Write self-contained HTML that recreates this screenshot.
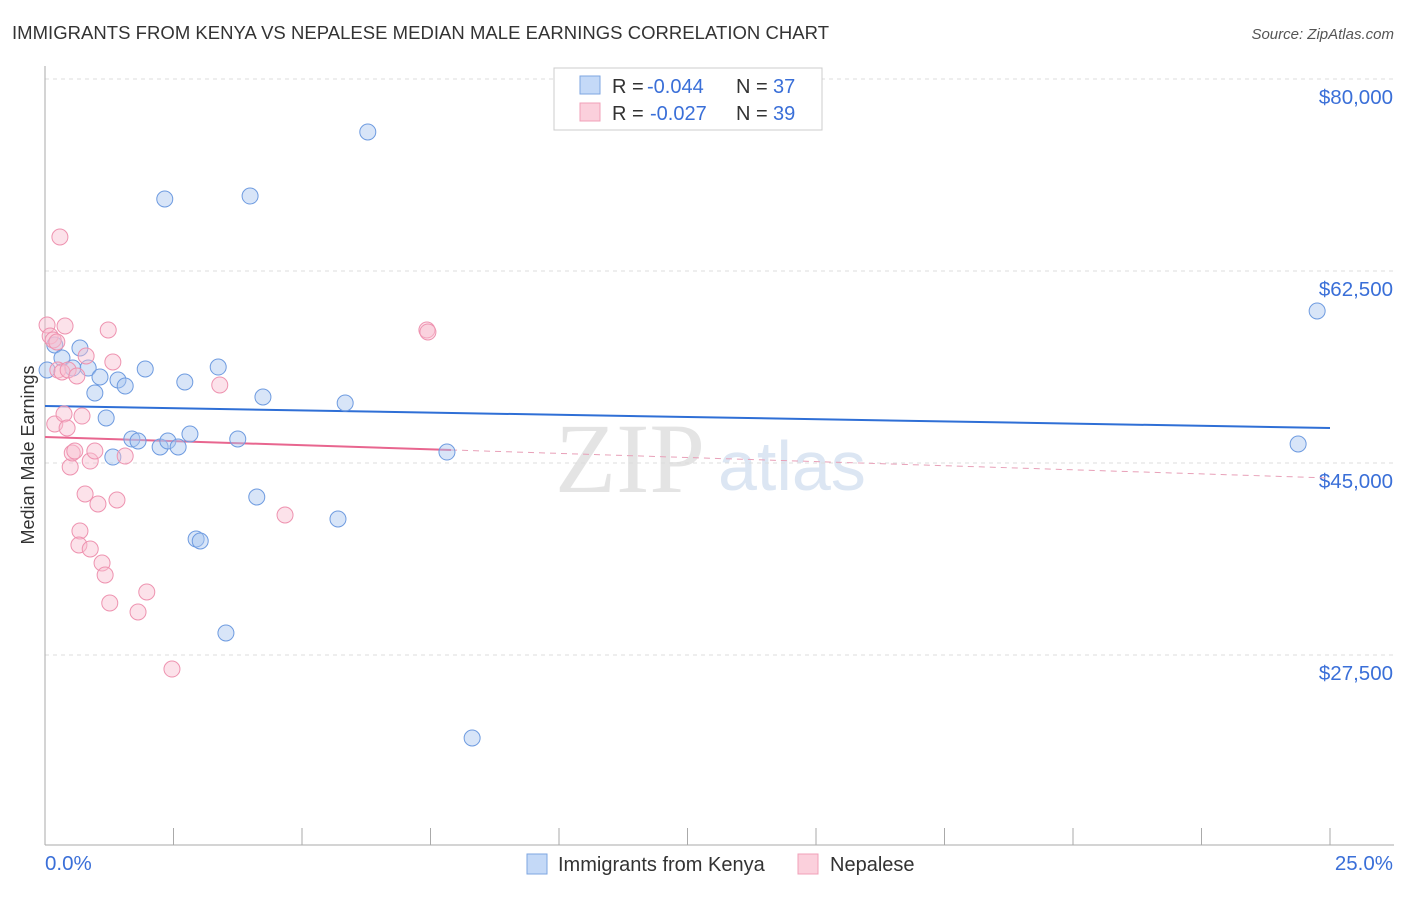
<!DOCTYPE html>
<html><head><meta charset="utf-8"><style>
body{margin:0;background:#fff;font-family:"Liberation Sans",sans-serif;}
</style></head><body>
<svg id="chart" width="1406" height="892" xmlns="http://www.w3.org/2000/svg">
<text x="12" y="39" font-size="18.5" fill="#333" textLength="817">IMMIGRANTS FROM KENYA VS NEPALESE MEDIAN MALE EARNINGS CORRELATION CHART</text>
<text x="1394" y="39" font-size="15" fill="#555" font-style="italic" text-anchor="end">Source: ZipAtlas.com</text>
<text transform="translate(34,455) rotate(-90)" font-size="18" fill="#333" text-anchor="middle">Median Male Earnings</text>
<text x="555" y="492" font-size="100" fill="#e4e4e4" font-family="Liberation Serif,serif">ZIP</text>
<text x="718" y="490" font-size="70" fill="#dce6f3">atlas</text>
<g id="grid"></g><g id="axes"></g><g id="trend"></g><g id="points"></g>
<g>
<rect x="554" y="68" width="268" height="62" fill="#fff" stroke="#ccc"/>
<rect x="580" y="76" width="20" height="18" fill="#c4d9f7" stroke="#7ea6e0"/>
<text x="612" y="93" font-size="20" fill="#333">R =</text>
<text x="647" y="93" font-size="20" fill="#3a6fd8">-0.044</text>
<text x="736" y="93" font-size="20" fill="#333">N =</text>
<text x="773" y="93" font-size="20" fill="#3a6fd8">37</text>
<rect x="580" y="103" width="20" height="18" fill="#fbd0dc" stroke="#f0a0b8"/>
<text x="612" y="120" font-size="20" fill="#333">R =</text>
<text x="650" y="120" font-size="20" fill="#3a6fd8">-0.027</text>
<text x="736" y="120" font-size="20" fill="#333">N =</text>
<text x="773" y="120" font-size="20" fill="#3a6fd8">39</text>
</g>
<g>
<rect x="527" y="854" width="20" height="20" fill="#c4d9f7" stroke="#7ea6e0"/>
<text x="558" y="871" font-size="20" fill="#333">Immigrants from Kenya</text>
<rect x="798" y="854" width="20" height="20" fill="#fbd0dc" stroke="#f0a0b8"/>
<text x="830" y="871" font-size="20" fill="#333">Nepalese</text>
</g>
</svg>
<script>
const yTicks=[80000,62500,45000,27500];
const yTickLabels=["$80,000","$62,500","$45,000","$27,500"];
const kenyaX=[0.19,0.33,0.04,0.54,0.84,0.68,0.97,1.07,1.42,1.56,1.19,1.32,1.69,1.81,1.95,2.24,2.33,2.39,2.59,2.72,2.82,2.94,3.02,3.37,3.52,3.75,3.99,4.12,4.24,5.70,5.84,6.28,7.82,8.31,24.38,24.75];
const kenyaY=[55755,54570,53476,53658,53658,55481,51380,52838,52565,52018,49101,45545,47187,47005,53568,46458,69062,47005,46458,52382,47643,38073,37890,53749,29505,47187,69335,41901,51016,39896,50469,75169,45999,19935,46732,58854];
const nepalX=[0.04,0.10,0.29,0.16,0.23,0.25,0.39,0.33,0.45,0.19,0.37,0.43,0.49,0.53,0.58,0.62,0.68,0.72,0.80,0.78,0.66,0.88,0.88,0.97,1.03,1.11,1.17,1.23,1.26,1.32,1.40,1.56,1.81,1.98,2.47,3.40,4.67,7.43,7.45];
const nepalY=[57578,56576,65599,56211,56029,53476,57487,53294,53476,48554,49466,48190,44635,45911,46093,52929,38802,49283,54752,42174,37526,37161,45180,46093,41263,35885,34791,57123,32239,54206,41628,45636,31419,33242,26223,52109,40260,57123,56941];
const kenyaTrend=[50195,48190];
const nepalTrend=[47369,43633];
const nepalSolidEnd=7.9;
const NS="http://www.w3.org/2000/svg";
const xs=v=>45+v/25*1285;
const ys=v=>79+(80000-v)/17500*192;
function mk(t,a,p){const e=document.createElementNS(NS,t);for(const k in a)e.setAttribute(k,a[k]);document.getElementById(p).appendChild(e);return e;}
yTicks.forEach((t,i)=>{
 const l=mk('line',{x1:45,x2:1394,y1:ys(t),y2:ys(t),stroke:'#ddd','stroke-dasharray':'4,4'},'grid');
 
 
 const tx=mk('text',{x:1393,y:ys(t)+25,'font-size':20.5,fill:'#3a6fd8','text-anchor':'end'},'grid');
 tx.textContent=yTickLabels[i];
 
 
});
const ax=mk('line',{x1:45,x2:1394,y1:845,y2:845,stroke:'#aaa'},'axes');


const ay=mk('line',{x1:45,x2:45,y1:66,y2:845,stroke:'#aaa'},'axes');


for(let i=0;i<=10;i++){const t=mk('line',{x1:xs(i*2.5),x2:xs(i*2.5),y1:828,y2:845,stroke:'#aaa'},'axes');
 
 }
const l0=mk('text',{x:45,y:870,'font-size':20.5,fill:'#3a6fd8'},'axes');l0.textContent='0.0%';


const l1=mk('text',{x:1393,y:870,'font-size':20.5,fill:'#3a6fd8','text-anchor':'end'},'axes');l1.textContent='25.0%';


function pts(X,Y,fill,stroke,name){X.forEach((x,i)=>{const c=mk('circle',{cx:xs(x),cy:ys(Y[i]),r:8,fill:fill,'fill-opacity':0.45,stroke:stroke,'stroke-width':1},'points');
 
 });}
pts(kenyaX,kenyaY,'#a9c6f0','#6e9be0','kenya-point');
pts(nepalX,nepalY,'#f8bfd0','#ee93b0','nepalese-point');
const kt=mk('line',{x1:xs(0),y1:ys(kenyaTrend[0]),x2:xs(25),y2:ys(kenyaTrend[1]),stroke:'#2f6fd6','stroke-width':2},'trend');


const pv=x=>nepalTrend[0]+(nepalTrend[1]-nepalTrend[0])*x/25;
const pt=mk('line',{x1:xs(0),y1:ys(pv(0)),x2:xs(nepalSolidEnd),y2:ys(pv(nepalSolidEnd)),stroke:'#e8668f','stroke-width':2},'trend');


const pd=mk('line',{x1:xs(nepalSolidEnd),y1:ys(pv(nepalSolidEnd)),x2:xs(25),y2:ys(pv(25)),stroke:'#e8a0b8','stroke-width':1,'stroke-dasharray':'6,5'},'trend');


</script>
</body></html>
